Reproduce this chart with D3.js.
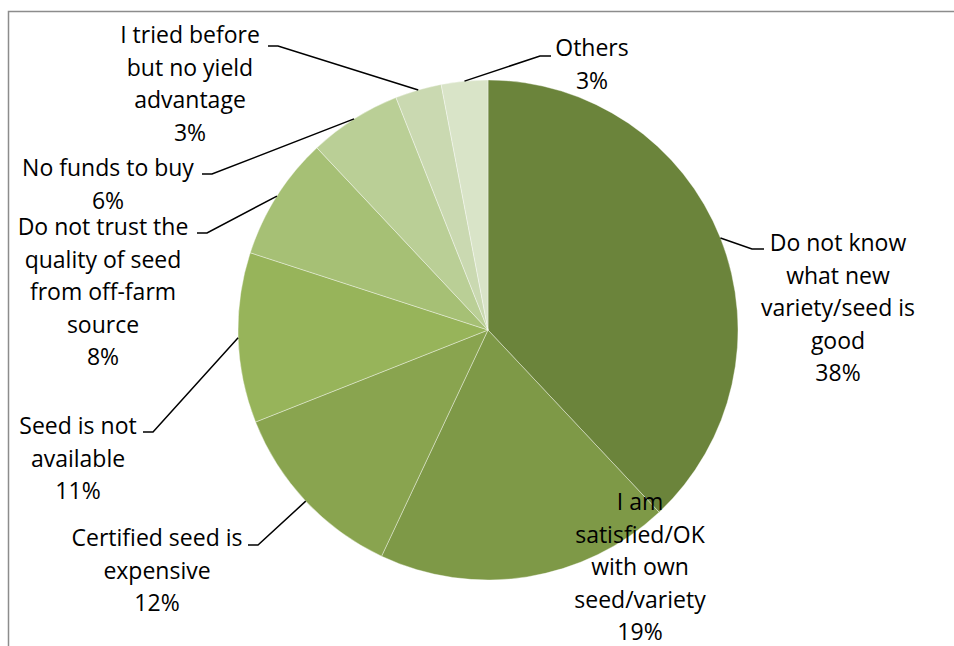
<!DOCTYPE html>
<html>
<head>
<meta charset="utf-8">
<script src="https://cdn.jsdelivr.net/npm/d3@7/dist/d3.min.js"></script>
<style>
  html, body { margin: 0; padding: 0; background: #ffffff; }
  svg { display: block; }
  text { font-family: "Open Sans", Lato, sans-serif; fill: #000; }
</style>
</head>
<body>
<svg id="chart" width="954" height="646"></svg>
<script>
// Reasons for not using new seed varieties (share of respondents, %)
const categories = [
  "Do not know what new variety/seed is good",
  "I am satisfied/OK with own seed/variety",
  "Certified seed is expensive",
  "Seed is not available",
  "Do not trust the quality of seed from off-farm source",
  "No funds to buy",
  "I tried before but no yield advantage",
  "Others"
];
const values = [38, 19, 12, 11, 8, 6, 3, 3];

// Wrapped label lines for each category (percent line appended below)
const labelLines = [
  ["Do not know", "what new", "variety/seed is", "good"],
  ["I am", "satisfied/OK", "with own", "seed/variety"],
  ["Certified seed is", "expensive"],
  ["Seed is not", "available"],
  ["Do not trust the", "quality of seed", "from off-farm", "source"],
  ["No funds to buy"],
  ["I tried before", "but no yield", "advantage"],
  ["Others"]
];

const colors = ["#6b843b", "#7e9947", "#89a44f", "#97b45a", "#a6c075", "#bacf96", "#cad9b1", "#d9e4c8"];

// Label placement: text centre x, first line centre y, and leader elbow / end points
const labelLayout = [
  { x: 838, y: 242, elbow: [752, 249], end: [764, 249] },
  { x: 640, y: 501, elbow: null, end: null },
  { x: 157, y: 537, elbow: [258, 545], end: [248, 545] },
  { x: 78,  y: 425, elbow: [153, 432], end: [143, 432] },
  { x: 103, y: 226, elbow: [207, 233], end: [197, 233] },
  { x: 108, y: 167, elbow: [212, 174], end: [202, 174] },
  { x: 190, y: 34,  elbow: [278, 46],  end: [268, 46] },
  { x: 592, y: 47,  elbow: [540, 56],  end: [551, 56] }
];

const width = 954, height = 646;
const cx = 488, cy = 330, radius = 250;
const lineHeight = 32.6;

const svg = d3.select("#chart");

// Chart area frame
svg.append("rect")
  .attr("x", 8.5).attr("y", 11.5)
  .attr("width", 980).attr("height", 660)
  .attr("fill", "none")
  .attr("stroke", "#8c8c8c")
  .attr("stroke-width", 1.5);

const data = categories.map((c, i) => ({ name: c, value: values[i], idx: i }));

const pie = d3.pie().value(d => d.value).sort(null);
const arcs = pie(data);

const arc = d3.arc().innerRadius(0).outerRadius(radius);

const g = svg.append("g").attr("transform", `translate(${cx},${cy})`);

g.selectAll("path.slice")
  .data(arcs)
  .join("path")
  .attr("class", "slice")
  .attr("d", arc)
  .attr("fill", d => colors[d.data.idx])
  .attr("stroke", "rgba(255,255,255,0.55)")
  .attr("stroke-width", 0.7);

// Leader lines from slice edge midpoint to the label
const leaders = svg.append("g")
  .attr("fill", "none")
  .attr("stroke", "#000")
  .attr("stroke-width", 1.5);

arcs.forEach(a => {
  const lay = labelLayout[a.data.idx];
  if (!lay.elbow) return;
  const mid = (a.startAngle + a.endAngle) / 2;
  const p = [cx + radius * Math.sin(mid), cy - radius * Math.cos(mid)];
  leaders.append("path")
    .attr("d", d3.line()([p, lay.elbow, lay.end]));
});

// Labels
const labels = svg.append("g")
  .attr("font-size", 23)
  .attr("text-anchor", "middle");

arcs.forEach(a => {
  const i = a.data.idx;
  const lay = labelLayout[i];
  const lines = labelLines[i].concat([a.data.value + "%"]);
  const t = labels.append("text")
    .attr("x", lay.x)
    .attr("y", lay.y)
    .attr("dominant-baseline", "central");
  lines.forEach((ln, k) => {
    t.append("tspan")
      .attr("x", lay.x)
      .attr("y", lay.y + k * lineHeight)
      .text(ln);
  });
});
</script>
</body>
</html>
